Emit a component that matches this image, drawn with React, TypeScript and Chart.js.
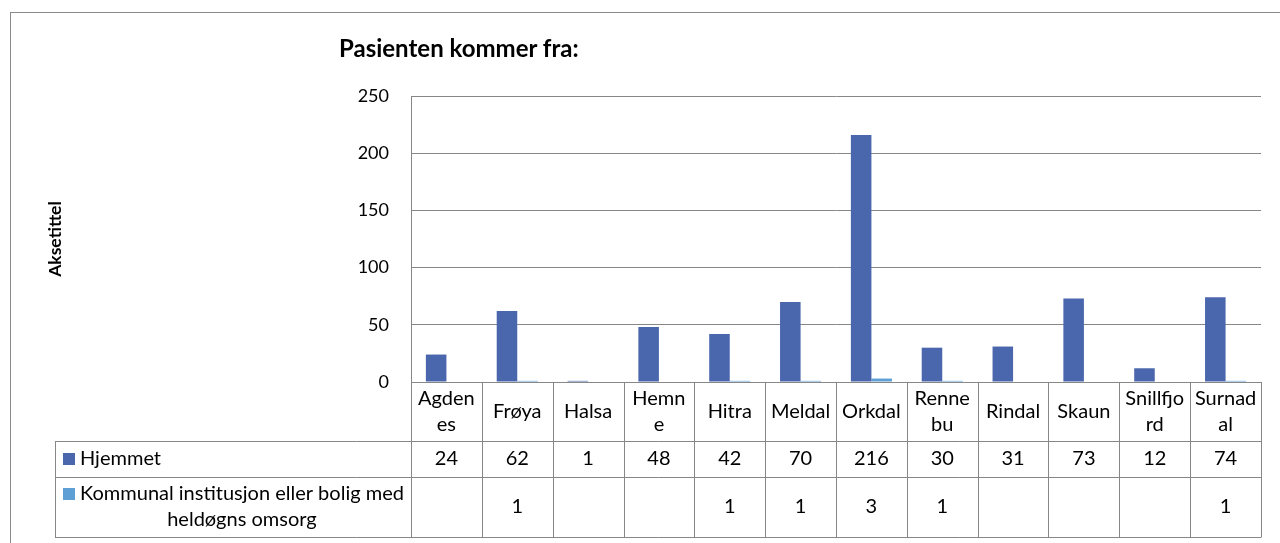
import React, { useEffect, useRef } from 'react';
import { Chart, registerables } from 'chart.js';

Chart.register(...registerables);

const categories = ['Agdenes', 'Frøya', 'Halsa', 'Hemne', 'Hitra', 'Meldal', 'Orkdal', 'Rennebu', 'Rindal', 'Skaun', 'Snillfjord', 'Surnadal'];
const categoryLabelLines = [['Agden', 'es'], ['Frøya'], ['Halsa'], ['Hemn', 'e'], ['Hitra'], ['Meldal'], ['Orkdal'], ['Renne', 'bu'], ['Rindal'], ['Skaun'], ['Snillfjo', 'rd'], ['Surnad', 'al']];
const seriesNames = ['Hjemmet', 'Kommunal institusjon eller bolig med heldøgns omsorg'];
const seriesLegendLines = [['Hjemmet'], ['Kommunal institusjon eller bolig med', 'heldøgns omsorg']];
const hjemmet: (number | null)[] = [24, 62, 1, 48, 42, 70, 216, 30, 31, 73, 12, 74];
const kommunal: (number | null)[] = [null, 1, null, null, 1, 1, 3, 1, null, null, null, 1];
const yTicks = [0, 50, 100, 150, 200, 250];
const chartTitle = 'Pasienten kommer fra:';
const yAxisTitle = 'Aksetittel';

const FONT = 'Lato, "Noto Sans", sans-serif';
const COLORS = ['#4a66ac', '#5e9fd6'];
const LINE = '#878787';
const TEXT_SIZE = 20;
const TICK_SIZE = 18;

const tablePlugin = {
  id: 'dataTable',
  afterDraw(chart: any) {
    const { ctx, chartArea, scales } = chart;
    const x = scales.x;
    const n = categories.length;
    const colW = (chartArea.right - chartArea.left) / n;
    const bottom = chartArea.bottom;
    const right = chartArea.right;
    const headerBottom = bottom + 59;
    const row1Bottom = headerBottom + 36;
    const row2Bottom = row1Bottom + 60;
    const tableLeft = 55;
    const crisp = (v: number) => Math.round(v) + 0.5;
    const line = (x1: number, y1: number, x2: number, y2: number) => {
      ctx.beginPath();
      ctx.moveTo(x1, y1);
      ctx.lineTo(x2, y2);
      ctx.stroke();
    };
    ctx.save();
    ctx.strokeStyle = LINE;
    ctx.lineWidth = 1;
    [headerBottom, row1Bottom, row2Bottom].forEach((yy) => line(tableLeft, crisp(yy), right + 0.5, crisp(yy)));
    line(crisp(tableLeft), headerBottom, crisp(tableLeft), row2Bottom);
    for (let i = 0; i <= n; i++) {
      const px = i < n ? x.getPixelForValue(i) - colW / 2 : x.getPixelForValue(n - 1) + colW / 2;
      line(crisp(px), bottom, crisp(px), row2Bottom);
    }
    const series = [hjemmet, kommunal];
    const rows = [
      { top: headerBottom, bottom: row1Bottom },
      { top: row1Bottom, bottom: row2Bottom },
    ];
    ctx.font = `${TEXT_SIZE}px ${FONT}`;
    ctx.fillStyle = '#000';
    ctx.textBaseline = 'middle';
    const lh = 26;
    series.forEach((vals, r) => {
      const { top, bottom: rb } = rows[r];
      const cy = (top + rb) / 2;
      const lines = seriesLegendLines[r];
      const firstY = cy - ((lines.length - 1) * lh) / 2;
      ctx.fillStyle = COLORS[r];
      ctx.fillRect(63, Math.round(firstY - 6), 12, 12);
      ctx.fillStyle = '#000';
      const textLeft = 80;
      const w0 = ctx.measureText(lines[0]).width;
      const textCenter = textLeft + w0 / 2;
      lines.forEach((t, k) => {
        if (k === 0) {
          ctx.textAlign = 'left';
          ctx.fillText(t, textLeft, firstY);
        } else {
          ctx.textAlign = 'center';
          ctx.fillText(t, textCenter, firstY + k * lh);
        }
      });
      ctx.textAlign = 'center';
      vals.forEach((v, i) => {
        if (v === null || v === undefined) return;
        ctx.fillText(String(v), x.getPixelForValue(i), cy);
      });
    });
    ctx.restore();
  },
};

export default function App() {
  const canvasRef = useRef<HTMLCanvasElement | null>(null);

  useEffect(() => {
    if (!canvasRef.current) return;
    const chart = new Chart(canvasRef.current, {
      type: 'bar',
      data: {
        labels: categories,
        datasets: [
          {
            label: seriesNames[0],
            data: hjemmet,
            backgroundColor: COLORS[0],
            categoryPercentage: 0.58,
            barPercentage: 1,
          },
          {
            label: seriesNames[1],
            data: kommunal,
            backgroundColor: COLORS[1],
            categoryPercentage: 0.58,
            barPercentage: 1,
          },
        ],
      },
      options: {
        animation: false,
        responsive: true,
        maintainAspectRatio: false,
        layout: { padding: { left: 42, right: 19, top: 96, bottom: 0 } },
        plugins: {
          legend: { display: false },
          title: { display: false },
          tooltip: { enabled: false },
        },
        scales: {
          x: {
            offset: true,
            grid: { display: false, drawTicks: false },
            border: { display: false },
            ticks: {
              autoSkip: false,
              maxRotation: 0,
              minRotation: 0,
              padding: 17,
              crossAlign: 'center',
              color: '#000',
              font: { family: FONT, size: TEXT_SIZE, lineHeight: 26 / TEXT_SIZE },
              callback: (_v: any, i: number) => categoryLabelLines[i],
            },
            afterFit: (scale: any) => {
              scale.height = 161;
            },
          },
          y: {
            min: 0,
            max: 250,
            grid: { color: LINE, lineWidth: 1, drawTicks: false },
            border: { display: true, color: LINE, width: 1 },
            afterBuildTicks: (scale: any) => {
              scale.ticks = yTicks.map((v) => ({ value: v }));
            },
            ticks: {
              padding: 22,
              color: '#000',
              font: { family: FONT, size: TICK_SIZE },
            },
            title: {
              display: true,
              text: yAxisTitle,
              color: '#000',
              padding: { top: 5, bottom: 4 },
              font: { family: FONT, size: 17.5, weight: 'bold', lineHeight: 1 },
            },
            afterFit: (scale: any) => {
              scale.width = 411 - 42;
            },
          },
        },
      },
      plugins: [tablePlugin],
    });
    return () => chart.destroy();
  }, []);

  return (
    <>
      <div
        style={{
          position: 'fixed',
          left: 10,
          top: 12,
          width: 1400,
          height: 700,
          borderLeft: '1px solid #8a8a8a',
          borderTop: '1px solid #8a8a8a',
          boxSizing: 'border-box',
        }}
      />
      <div style={{ position: 'fixed', left: 0, top: 0, width: 1280, height: 543 }}>
        <canvas ref={canvasRef} />
      </div>
      <div
        style={{
          position: 'fixed',
          left: 339,
          top: 34,
          fontFamily: FONT,
          fontWeight: 'bold',
          fontSize: 24,
          lineHeight: '28px',
          color: '#000',
          whiteSpace: 'nowrap',
        }}
      >
        {chartTitle}
      </div>
    </>
  );
}
